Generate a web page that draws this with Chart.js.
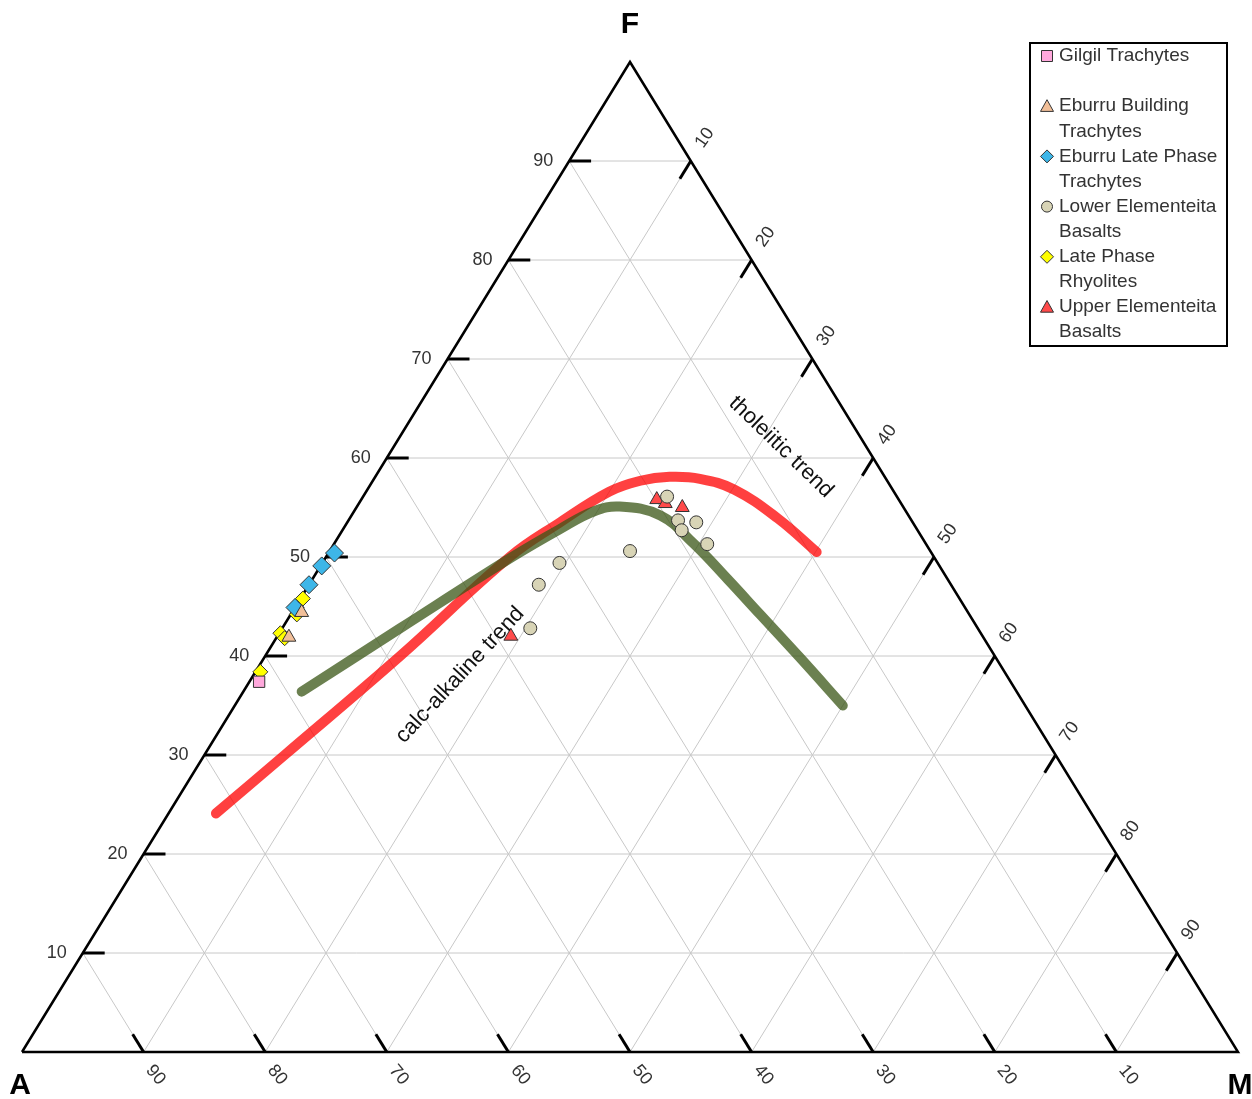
<!DOCTYPE html>
<html>
<head>
<meta charset="utf-8">
<title>AFM diagram</title>
<script src="https://cdn.jsdelivr.net/npm/chart.js"></script>
<style>
  body { margin: 0; background: #fff; }
  #wrap { width: 1252px; height: 1099px; }
</style>
</head>
<body>
<div id="wrap"><canvas id="afm"></canvas></div>
<script>
// samples as [A, F, M], normalised to 100
var gilgil = [[61.8, 37.4, 0.8]];
var eburruBuilding = [[54.8, 44.4, 0.8], [57.1, 41.9, 1.0]];
var eburruLate = [[49.1, 50.4, 0.5], [50.8, 49.1, 0.1], [52.8, 47.2, 0.0], [55.1, 44.9, 0.0]];
var lowerElementeita = [[18.9, 56.1, 25.0], [19.2, 53.7, 27.1], [17.8, 53.5, 28.7], [19.4, 52.7, 27.9],
  [18.0, 51.3, 30.7], [24.7, 50.6, 24.7], [31.1, 49.4, 19.5], [33.9, 47.2, 18.9], [36.8, 42.8, 20.4]];
var latePhaseRhyolites = [[54.0, 45.8, 0.2], [55.3, 44.2, 0.5], [57.6, 42.3, 0.1], [57.5, 41.8, 0.7], [61.2, 38.4, 0.4]];
var upperElementeita = [[19.9, 55.8, 24.3], [19.4, 55.4, 25.2], [18.2, 55.0, 26.8], [38.8, 42.0, 19.2]];

// dividing trends
var tholeiiticTrend = [[72.0, 24.1, 3.9], [63.4, 30.0, 6.6], [48.9, 40.0, 11.1], [34.9, 50.0, 15.1],
  [29.0, 53.5, 17.5], [23.4, 56.6, 20.0], [20.3, 57.7, 22.0], [17.7, 58.1, 24.2], [15.3, 57.9, 26.8],
  [13.0, 56.8, 30.2], [10.9, 53.9, 35.2], [9.4, 50.5, 40.1]];
var calcAlkalineTrend = [[58.8, 36.4, 4.8], [47.5, 42.8, 9.7], [34.7, 50.0, 15.3], [29.4, 52.8, 17.8],
  [25.7, 54.6, 19.7], [23.3, 55.1, 21.6], [20.4, 54.2, 25.4], [19.1, 51.4, 29.5], [18.1, 47.8, 34.1],
  [17.2, 44.2, 38.6], [16.1, 39.8, 44.1], [15.0, 35.0, 50.0]];

var gridValues = [10, 20, 30, 40, 50, 60, 70, 80, 90];

// ternary -> cartesian (x runs A->M, y is F)
function tern(a, f, m) {
  var s = a + f + m;
  f = f * 100 / s; m = m * 100 / s;
  return { x: m + f / 2, y: f };
}
function toXY(rows) {
  return rows.map(function (r) { return tern(r[0], r[1], r[2]); });
}

var datasets = [];

function seg(p, q, color, width, order) {
  datasets.push({
    data: [p, q], showLine: true, borderColor: color, borderWidth: width,
    pointRadius: 0, order: order, clip: false, borderCapStyle: 'butt'
  });
}

// grid lines
gridValues.forEach(function (k) {
  seg(tern(100 - k, k, 0), tern(0, k, 100 - k), '#c8c8c8', 1, 10);
  seg(tern(0, 100 - k, k), tern(100 - k, 0, k), '#c8c8c8', 1, 10);
  seg(tern(k, 100 - k, 0), tern(k, 0, 100 - k), '#c8c8c8', 1, 10);
});

// tick marks, running a little way along each grid line
var tk = 1.8;
gridValues.forEach(function (k) {
  seg(tern(100 - k, k, 0), tern(100 - k - tk, k, tk), '#000', 3, 8);
  seg(tern(0, 100 - k, k), tern(tk, 100 - k - tk, k), '#000', 3, 8);
  seg(tern(100 - k, 0, k), tern(100 - k, tk, k - tk), '#000', 3, 8);
});

// outline
datasets.push({
  data: [tern(100, 0, 0), tern(0, 100, 0), tern(0, 0, 100), tern(100, 0, 0)],
  showLine: true, borderColor: '#000', borderWidth: 2.5, pointRadius: 0, order: 7, clip: false,
  borderJoinStyle: 'miter'
});

// trend curves
datasets.push({
  data: toXY(tholeiiticTrend), showLine: true, borderColor: 'rgba(255,0,0,0.75)', borderWidth: 10,
  pointRadius: 0, tension: 0.4, borderCapStyle: 'round', order: 6, clip: false
});
datasets.push({
  data: toXY(calcAlkalineTrend), showLine: true, borderColor: 'rgba(58,86,22,0.75)', borderWidth: 10,
  pointRadius: 0, tension: 0.4, borderCapStyle: 'round', order: 5, clip: false
});

// samples
var series = [
  { name: 'Gilgil Trachytes', rows: gilgil, style: 'rect', color: '#ffa8dc', r: 8 },
  { name: 'Eburru Building Trachytes', rows: eburruBuilding, style: 'triangle', color: '#f2bf98', r: 8 },
  { name: 'Eburru Late Phase Trachytes', rows: eburruLate, style: 'rectRot', color: '#3db6e8', r: 9 },
  { name: 'Lower Elementeita Basalts', rows: lowerElementeita, style: 'circle', color: '#d8d4b6', r: 6.5 },
  { name: 'Late Phase Rhyolites', rows: latePhaseRhyolites, style: 'rectRot', color: '#ffff00', r: 7.5 },
  { name: 'Upper Elementeita Basalts', rows: upperElementeita, style: 'triangle', color: '#ff4a4a', r: 8 }
];
series.forEach(function (s, i) {
  datasets.push({
    label: s.name, data: toXY(s.rows), showLine: false, pointStyle: s.style,
    pointRadius: s.r, pointBackgroundColor: s.color, pointBorderColor: '#333',
    pointBorderWidth: 1, order: 0, clip: false
  });
});

function marker(ctx, style, x, y, r, fill) {
  ctx.save();
  ctx.beginPath();
  if (style === 'rect') {
    ctx.rect(x - r, y - r, 2 * r, 2 * r);
  } else if (style === 'rectRot') {
    ctx.moveTo(x, y - r); ctx.lineTo(x + r, y); ctx.lineTo(x, y + r); ctx.lineTo(x - r, y);
    ctx.closePath();
  } else if (style === 'triangle') {
    ctx.moveTo(x, y - r); ctx.lineTo(x + r, y + r * 0.8); ctx.lineTo(x - r, y + r * 0.8);
    ctx.closePath();
  } else {
    ctx.arc(x, y, r, 0, Math.PI * 2);
  }
  ctx.fillStyle = fill; ctx.fill();
  ctx.lineWidth = 1; ctx.strokeStyle = '#333'; ctx.stroke();
  ctx.restore();
}

var labelsPlugin = {
  id: 'afmLabels',
  afterDraw: function (chart) {
    var ctx = chart.ctx, xs = chart.scales.x, ys = chart.scales.y;
    function pix(a, f, m) {
      var p = tern(a, f, m);
      return [xs.getPixelForValue(p.x), ys.getPixelForValue(p.y)];
    }
    function rotText(txt, x, y, deg) {
      ctx.save();
      ctx.translate(x, y);
      ctx.rotate(deg * Math.PI / 180);
      ctx.fillText(txt, 0, 0);
      ctx.restore();
    }
    ctx.save();
    ctx.fillStyle = '#333';
    ctx.font = '18px "Liberation Sans", Arial, sans-serif';
    ctx.textBaseline = 'middle';

    gridValues.forEach(function (k) {
      // left edge: F
      var p = pix(100 - k, k, 0);
      ctx.textAlign = 'right';
      ctx.fillText(String(k), p[0] - 16, p[1]);
      // bottom edge: A
      ctx.textAlign = 'center';
      p = pix(100 - k, 0, k);
      rotText(String(100 - k), p[0] + 12, p[1] + 23, 50);
      // right edge: M
      p = pix(0, k, 100 - k);
      rotText(String(100 - k), p[0] + 14, p[1] - 23, -55);
    });

    // corners
    ctx.fillStyle = '#000';
    ctx.font = 'bold 30px "Liberation Sans", Arial, sans-serif';
    ctx.textAlign = 'center';
    var c = pix(0, 100, 0);
    ctx.fillText('F', c[0], c[1] - 37);
    c = pix(100, 0, 0);
    ctx.fillText('A', c[0] - 2, c[1] + 34);
    c = pix(0, 0, 100);
    ctx.fillText('M', c[0] + 2, c[1] + 34);

    // trend names
    ctx.fillStyle = '#111';
    ctx.font = '22px "Liberation Sans", Arial, sans-serif';
    rotText('tholeiitic trend', 781, 447, 44);
    rotText('calc-alkaline trend', 460, 675, -47);

    // legend
    var lx = 1030, ly = 43, lw = 197, lh = 303;
    ctx.lineWidth = 2;
    ctx.strokeStyle = '#000';
    ctx.strokeRect(lx, ly, lw, lh);
    ctx.font = '19px "Liberation Sans", Arial, sans-serif';
    ctx.textAlign = 'left';
    ctx.fillStyle = '#333';
    var rows = [
      { s: 0, lines: ['Gilgil Trachytes'] },
      { s: -1, lines: [''] },
      { s: 1, lines: ['Eburru Building', 'Trachytes'] },
      { s: 2, lines: ['Eburru Late Phase', 'Trachytes'] },
      { s: 3, lines: ['Lower Elementeita', 'Basalts'] },
      { s: 4, lines: ['Late Phase', 'Rhyolites'] },
      { s: 5, lines: ['Upper Elementeita', 'Basalts'] }
    ];
    var y = 56, step = 25.1;
    rows.forEach(function (r) {
      if (r.s >= 0) {
        var s = series[r.s];
        var mr = s.style === 'circle' ? 5.5 : (s.style === 'rect' ? 5.5 : 6.5);
        marker(ctx, s.style, 1047, y, mr, s.color);
      }
      r.lines.forEach(function (t) {
        ctx.fillStyle = '#333';
        ctx.fillText(t, 1059, y);
        y += step;
      });
    });
    ctx.restore();
  }
};

new Chart(document.getElementById('afm'), {
  type: 'scatter',
  data: { datasets: datasets },
  options: {
    responsive: true,
    maintainAspectRatio: false,
    animation: false,
    events: [],
    layout: { padding: { left: 22, right: 14, top: 62, bottom: 47 } },
    scales: {
      x: { type: 'linear', min: 0, max: 100, display: false },
      y: { type: 'linear', min: 0, max: 100, display: false }
    },
    plugins: {
      legend: { display: false },
      tooltip: { enabled: false }
    }
  },
  plugins: [labelsPlugin]
});
</script>
</body>
</html>
